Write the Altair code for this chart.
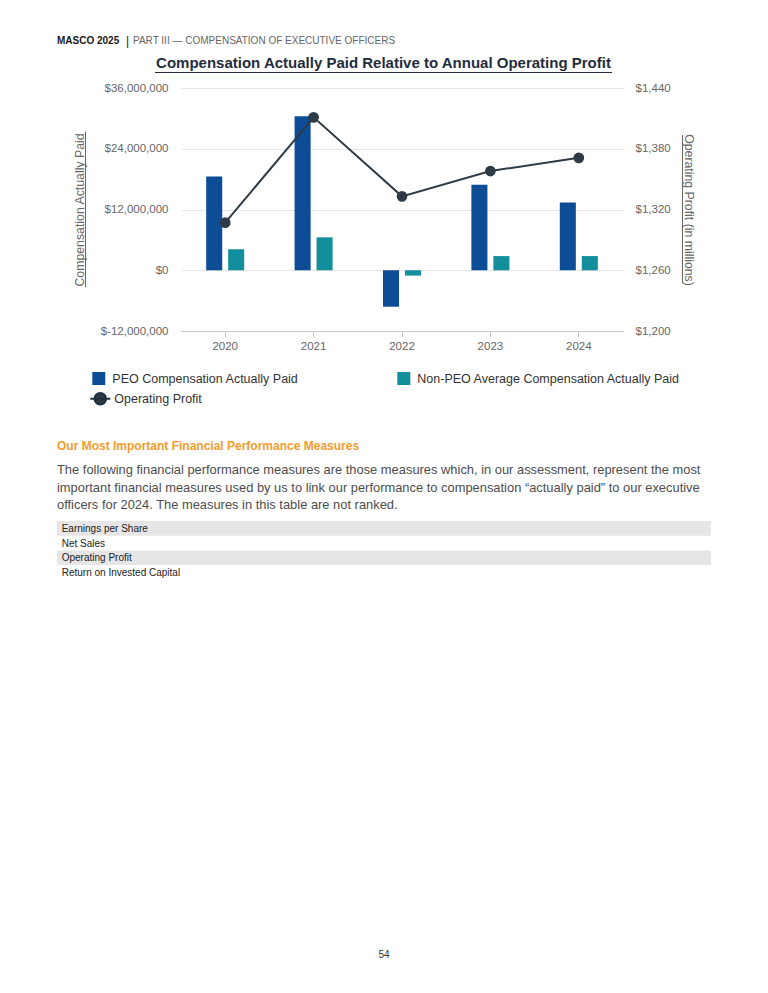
import altair as alt
import pandas as pd

FONT = "Liberation Sans"

# ---- data ----
years = ["2020", "2021", "2022", "2023", "2024"]
peo_cap = [18_500_000, 30_400_000, -7_200_000, 16_900_000, 13_400_000]
non_peo_cap = [4_150_000, 6_500_000, -1_050_000, 2_800_000, 2_800_000]
operating_profit = [1307, 1411, 1333, 1358, 1371]

PEO = "PEO Compensation Actually Paid"
NON = "Non-PEO Average Compensation Actually Paid"
OPN = "Operating Profit"

left_ticks = [-12_000_000, 0, 12_000_000, 24_000_000, 36_000_000]
right_ticks = [1200, 1260, 1320, 1380, 1440]

header_bold = "MASCO 2025"
header_rest = "PART III \u2014 COMPENSATION OF EXECUTIVE OFFICERS"
chart_title = "Compensation Actually Paid Relative to Annual Operating Profit"
section_heading = "Our Most Important Financial Performance Measures"
paragraph = [
    "The following financial performance measures are those measures which, in our assessment, represent the most",
    "important financial measures used by us to link our performance to compensation \u201cactually paid\u201d to our executive",
    "officers for 2024. The measures in this table are not ranked.",
]
measures = ["Earnings per Share", "Net Sales", "Operating Profit", "Return on Invested Capital"]
page_number = "54"

BLUE = "#0C4D96"
TEAL = "#128E9D"
DARK = "#2E3A46"
DARK2 = "#1E2F3E"
GRAY = "#666666"

bars_df = pd.DataFrame({
    "year": years * 2,
    "series": [PEO] * len(years) + [NON] * len(years),
    "value": peo_cap + non_peo_cap,
})
op_df = pd.DataFrame({"year": years, "series": [OPN] * len(years), "profit": operating_profit})

x_scale = alt.Scale(domain=years, paddingInner=0.57, paddingOuter=0.285)

bars = alt.Chart(bars_df).mark_bar().encode(
    x=alt.X("year:N", sort=years, scale=x_scale,
            axis=alt.Axis(title=None, labelAngle=0, labelFontSize=11.5, labelColor=GRAY,
                          domainColor="#c8c8c8", tickColor="#c8c8c8", tickSize=6,
                          labelPadding=3, labelFont=FONT)),
    xOffset=alt.XOffset("series:N", sort=[PEO, NON],
                        scale=alt.Scale(domain=[PEO, NON], paddingInner=0.27, paddingOuter=0)),
    y=alt.Y("value:Q",
            scale=alt.Scale(domain=[-12_000_000, 36_000_000], nice=False, zero=False),
            axis=alt.Axis(orient="left", values=left_ticks,
                          labelExpr="'$' + replace(format(datum.value, ',.0f'), '\u2212', '-')",
                          grid=True, gridColor="#e6e6e6", domain=False, ticks=False, tickSize=0,
                          labelPadding=13, labelFontSize=11.5, labelColor=GRAY, labelFont=FONT,
                          title="Compensation Actually Paid", titleFontSize=12.3,
                          titleFontWeight="normal", titleColor=GRAY, titleFont=FONT,
                          titleX=-97.5, titleY=121.5, titleAngle=270,
                          titleBaseline="alphabetic", titleAlign="center")),
    color=alt.Color("series:N",
                    scale=alt.Scale(domain=[PEO, NON], range=[BLUE, TEAL]),
                    legend=alt.Legend(title=None, orient="none", legendX=-88.7, legendY=284,
                                      columns=2, columnPadding=98, symbolType="square",
                                      symbolSize=169, symbolStrokeWidth=0, labelFontSize=12.5,
                                      labelColor="#333333", labelFont=FONT, labelOffset=7,
                                      labelLimit=400, padding=0)),
)

right_scale = alt.Scale(domain=[1200, 1440], nice=False, zero=False)

line = alt.Chart(op_df).mark_line(color=DARK, strokeWidth=2).encode(
    x=alt.X("year:N", sort=years, scale=x_scale),
    y=alt.Y("profit:Q", scale=right_scale,
            axis=alt.Axis(orient="right", values=right_ticks,
                          labelExpr="'$' + format(datum.value, ',.0f')",
                          grid=False, domain=False, ticks=False, tickSize=0,
                          labelPadding=12, labelFontSize=11.5, labelColor=GRAY, labelFont=FONT,
                          title="Operating Profit (in millions)", titleFontSize=12.3,
                          titleFontWeight="normal", titleColor=GRAY, titleFont=FONT,
                          titleX=61.5, titleY=121.5, titleAngle=90,
                          titleBaseline="alphabetic", titleAlign="center")),
)

LEG_PATH = "M-1,0L1,0M-0.58,0A0.58,0.58 0 1,1 0.58,0A0.58,0.58 0 1,1 -0.58,0Z"

points = alt.Chart(op_df).mark_point(filled=True, size=115, opacity=1).encode(
    x=alt.X("year:N", sort=years, scale=x_scale),
    y=alt.Y("profit:Q", scale=right_scale, axis=None),
    color=alt.Color("series:N", scale=alt.Scale(domain=[OPN], range=[DARK]),
                    legend=alt.Legend(title=None, orient="none", legendX=-91.7, legendY=299.7,
                                      symbolType=LEG_PATH, symbolSize=400,
                                      symbolFillColor=DARK2, symbolStrokeColor=DARK2,
                                      symbolStrokeWidth=2, labelOffset=3, labelFontSize=12.5,
                                      labelColor="#333333", labelFont=FONT, labelLimit=400,
                                      padding=0)),
)

ONE = alt.Data(values=[{}])


def txt(text, x, y, size, color, weight="normal", align="left"):
    return alt.Chart(ONE).mark_text(
        text=text, align=align, baseline="alphabetic", fontSize=size,
        color=color, fontWeight=weight, font=FONT,
    ).encode(x=alt.value(x), y=alt.value(y))


def hrule(x1, x2, y, color):
    return alt.Chart(ONE).mark_rule(color=color, strokeWidth=1).encode(
        x=alt.value(x1), x2=alt.value(x2), y=alt.value(y))


def vrule(x, y1, y2, color):
    return alt.Chart(ONE).mark_rule(color=color, strokeWidth=1).encode(
        x=alt.value(x), y=alt.value(y1), y2=alt.value(y2))


decor = [
    txt(header_bold, -124, -44, 10, "#1a1a1a", "bold"),
    txt("|", -55, -43, 12, "#1a1a1a"),
    txt(header_rest, -48, -44, 10, GRAY),
    txt(chart_title, 202.5, -20, 15, "#1F2D3D", "bold", "center"),
    hrule(-26, 431, -15.5, "#1F2D3D"),
    vrule(-95.5, 43.5, 199, GRAY),
    vrule(501.5, 47, 195, GRAY),
    txt(section_heading, -124, 362, 12, "#F39C2C", "bold"),
]
for i, line_text in enumerate(paragraph):
    decor.append(txt(line_text, -124, 386.3 + i * 17.35, 12.9, "#4d4d4d"))

row_top = 433
row_h = 14.7
for i, m in enumerate(measures):
    if i % 2 == 0:
        decor.append(alt.Chart(ONE).mark_rect(color="#e6e6e6").encode(
            x=alt.value(-124), x2=alt.value(530),
            y=alt.value(row_top + i * row_h), y2=alt.value(row_top + (i + 1) * row_h)))
for i, m in enumerate(measures):
    decor.append(txt(m, -119.3, row_top + i * row_h + 11, 10, "#222222"))

decor.append(txt(page_number, 203, 870, 10, "#333333", "normal", "center"))

chart = alt.layer(bars, line, points, *decor).resolve_scale(
    y="independent", color="independent"
).properties(
    width=442, height=243,
    autosize=alt.AutoSizeParams(type="none"),
    padding={"left": 173, "top": 80, "right": 137, "bottom": 650},
).configure(font=FONT).configure_view(stroke="transparent")

chart.save("out.html", embed_options={"renderer": "svg", "actions": False})
